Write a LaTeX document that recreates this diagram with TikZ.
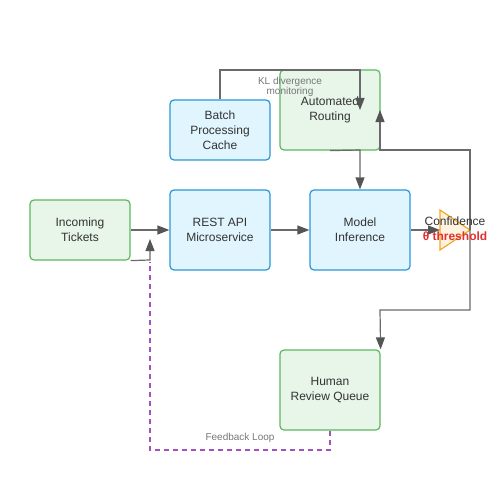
\documentclass[tikz,border=0pt]{standalone}
\usepackage{fontspec}
\setmainfont{Liberation Sans}
\usetikzlibrary{arrows.meta}
\definecolor{txt}{HTML}{333333}
\definecolor{gline}{HTML}{6A6A6A}
\definecolor{ghead}{HTML}{555555}
\definecolor{gstroke}{HTML}{5CB860}
\definecolor{gfill}{HTML}{E8F5E9}
\definecolor{bstroke}{HTML}{2A96D8}
\definecolor{bfill}{HTML}{E1F5FE}
\definecolor{ostroke}{HTML}{F5A623}
\definecolor{ofill}{HTML}{FFF3E0}
\definecolor{purp}{HTML}{A052C0}
\definecolor{lbl}{HTML}{777777}
\definecolor{redt}{HTML}{E03030}
\tikzset{
  boxbase/.style={rectangle, rounded corners=4pt, line width=1.2pt, minimum width=100pt, minimum height=60pt, align=center, text=txt, font=\fontsize{12}{15}\selectfont, inner sep=0pt},
  gbox/.style={boxbase, draw=gstroke, fill=gfill},
  bbox/.style={boxbase, draw=bstroke, fill=bfill},
  conn/.style={draw=gline, line width=1.2pt, -{Triangle[length=12pt,width=9pt,color=ghead]}},
  fb/.style={draw=purp, line width=1.5pt, dash pattern=on 5pt off 4pt},
  smalllbl/.style={text=lbl, font=\fontsize{10}{10}\selectfont, align=center, inner sep=0pt}
}
\begin{document}
\begin{tikzpicture}[x=1pt,y=-1pt]
\useasboundingbox (0,0) rectangle (500,500);
% nodes
\node[gbox] (inc) at (80,230) {Incoming\\Tickets};
\node[bbox, minimum height=80pt] (rest) at (220,230) {REST API\\Microservice};
\node[bbox, minimum height=80pt] (model) at (360,230) {Model\\Inference};
\node[bbox] (batch) at (220,130) {Batch\\Processing\\Cache};
\node[gbox, minimum height=80pt] (auto) at (330,110) {Automated\\Routing};
\node[gbox, minimum height=80pt] (human) at (330,390) {Human\\Review Queue};
% confidence triangle
\draw[draw=ostroke, fill=ofill, line width=1.2pt] (440,210) -- (470,230) -- (440,250) -- cycle;
\coordinate (cl) at (440,230);
\coordinate (ct) at (470,230);
% connectors
\draw[conn] (inc.east) -- (rest.west);
\draw[conn] (rest.east) -- (model.west);
\draw[conn] (model.east) -- (cl);
\draw[conn] (batch.north) -- (220,70) -- (360,70) -- (360,110);
\draw[conn] (auto.south) -- (360,150) -- (model.north);
\draw[conn] (ct) -- (470,150) -- (380,150) -- (380,110);
\draw[conn] (ct) -- (470,310) -- (380,310) -- (human.north east);
\draw[fb] (human.south) -- (330,450) -- (150,450) -- (150,262);
\draw[conn] (inc.south east) -- (150,260) -- (150,239);
% labels
\node[smalllbl] (kl) at (290,87) {KL divergence\\monitoring};
\node[smalllbl, anchor=base] (fbl) at (240,440) {Feedback Loop};
\node[text=txt, font=\fontsize{12}{15}\selectfont, inner sep=0pt, anchor=base] (conf) at (455,225) {Confidence};
\node[text=redt, font=\bfseries\fontsize{12}{15}\selectfont, inner sep=0pt, anchor=base] (thr) at (455,240) {θ threshold};
\end{tikzpicture}
\end{document}
